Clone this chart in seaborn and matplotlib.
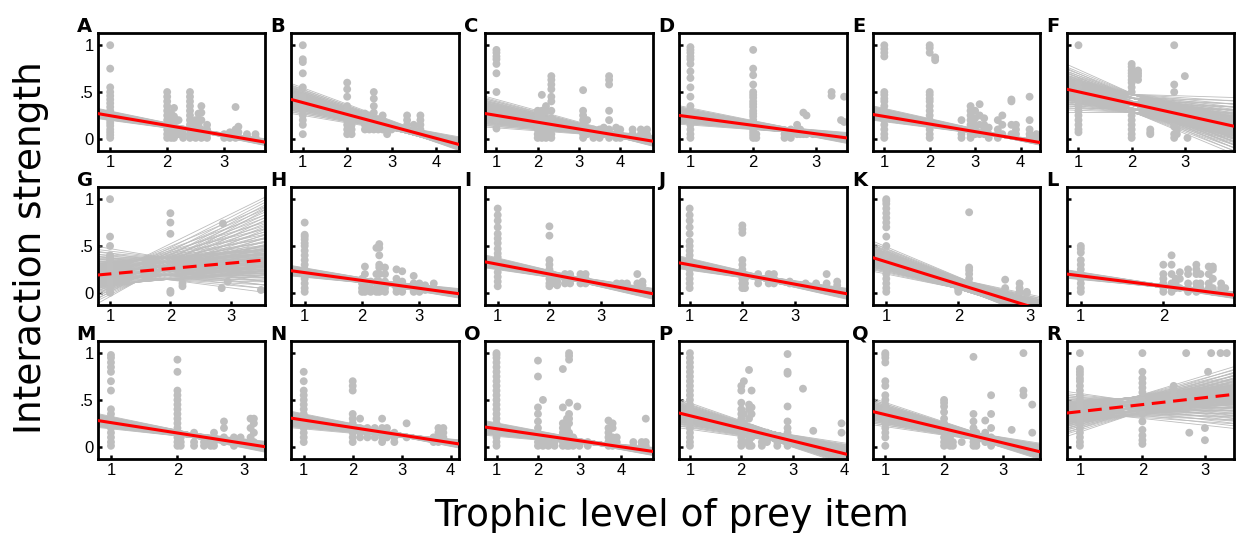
import numpy as np
import pandas as pd
import matplotlib
matplotlib.use("Agg")
import matplotlib.pyplot as plt
import seaborn as sns

sns.set_style("white")
plt.rcParams['font.family'] = ['DejaVu Sans']
plt.rcParams['text.color'] = 'black'
plt.rcParams['xtick.color'] = 'black'
plt.rcParams['ytick.color'] = 'black'

panel_labels = list("ABCDEFGHIJKLMNOPQR")

# Prey observations per predator: (trophic level of prey, [interaction strengths])
A_pts = [(1.0, [1.0, 0.75, 0.55, 0.5, 0.46, 0.42, 0.38, 0.34, 0.3, 0.27, 0.24, 0.2, 0.17, 0.14, 0.1, 0.07, 0.04, 0.01]),
         (2.0, [0.5, 0.45, 0.4, 0.35, 0.3, 0.25, 0.2, 0.15, 0.1, 0.05, 0.01]),
         (2.07, [0.27, 0.2, 0.12, 0.05, 0.01]), (2.12, [0.33, 0.24, 0.18, 0.1, 0.05, 0.01]),
         (2.2, [0.2, 0.1, 0.05]), (2.28, [0.1, 0.05, 0.01]),
         (2.4, [0.5, 0.45, 0.4, 0.35, 0.3, 0.25, 0.2, 0.15, 0.1, 0.05, 0.01]),
         (2.5, [0.2, 0.15, 0.1, 0.05, 0.01]), (2.55, [0.27, 0.2, 0.15, 0.1, 0.05]),
         (2.6, [0.35, 0.28, 0.2, 0.1, 0.05, 0.01]), (2.7, [0.15, 0.1, 0.05, 0.01]),
         (3.0, [0.05, 0.01]), (3.1, [0.07, 0.03, 0.01]), (3.2, [0.34, 0.1, 0.05, 0.01]),
         (3.25, [0.13, 0.07, 0.02]), (3.4, [0.05, 0.02]), (3.55, [0.05, 0.02])]
B_pts = [(1.0, [1.0, 0.85, 0.82, 0.7, 0.55, 0.45, 0.4, 0.35, 0.3, 0.25, 0.2, 0.15, 0.05]),
         (2.0, [0.6, 0.53, 0.45, 0.35, 0.3, 0.25, 0.2, 0.15, 0.1, 0.05]),
         (2.1, [0.28, 0.2, 0.15, 0.1, 0.05]), (2.4, [0.27, 0.2, 0.15, 0.1]),
         (2.5, [0.25, 0.2, 0.15, 0.1]), (2.6, [0.5, 0.43, 0.35, 0.28, 0.2, 0.15, 0.1]),
         (2.7, [0.2, 0.15, 0.1]), (2.8, [0.25, 0.2, 0.15, 0.1]), (2.9, [0.15, 0.1, 0.05]),
         (3.0, [0.1]), (3.35, [0.25, 0.2, 0.15, 0.1]), (3.5, [0.15, 0.1]),
         (3.65, [0.25, 0.2, 0.15, 0.1])]
C_pts = [(1.0, [0.95, 0.92, 0.88, 0.85, 0.8, 0.7, 0.5, 0.25, 0.2, 0.11]),
         (2.0, [0.3, 0.25, 0.2, 0.15, 0.1, 0.05, 0.01]),
         (2.1, [0.47, 0.3, 0.25, 0.2, 0.15, 0.1, 0.05, 0.01]),
         (2.2, [0.35, 0.3, 0.2, 0.1, 0.05, 0.01]),
         (2.33, [0.67, 0.63, 0.58, 0.53, 0.45, 0.4, 0.3, 0.22, 0.15, 0.1, 0.05, 0.01]),
         (3.1, [0.52, 0.3, 0.25, 0.2, 0.15, 0.1, 0.05, 0.01]), (3.2, [0.2, 0.1, 0.05]),
         (3.35, [0.1, 0.05, 0.01]), (3.5, [0.1, 0.05, 0.01]), (3.6, [0.12, 0.05]),
         (3.73, [0.67, 0.63, 0.58, 0.3, 0.2, 0.1, 0.05, 0.01]), (3.9, [0.12, 0.05, 0.01]),
         (4.0, [0.1, 0.05, 0.01]), (4.3, [0.1, 0.05]), (4.5, [0.1, 0.05, 0.01]), (4.65, [0.1, 0.05])]
D_pts = [(1.0, [0.98, 0.95, 0.92, 0.88, 0.85, 0.8, 0.72, 0.65, 0.55, 0.45, 0.35, 0.25, 0.2, 0.15, 0.1, 0.05, 0.01]),
         (2.0, [0.95, 0.75, 0.68, 0.58, 0.5, 0.47, 0.44, 0.4, 0.37, 0.34, 0.3, 0.27, 0.24, 0.2, 0.17, 0.14, 0.1, 0.07, 0.04, 0.01]),
         (2.05, [0.05, 0.01]), (2.5, [0.05, 0.01]), (2.6, [0.1, 0.05, 0.01]),
         (2.7, [0.15, 0.1, 0.05]), (2.75, [0.1, 0.05]), (2.8, [0.28, 0.05]),
         (2.85, [0.25, 0.05]), (2.95, [0.05]), (3.25, [0.5, 0.46]), (3.4, [0.2]),
         (3.45, [0.45, 0.18])]
E_pts = [(1.0, [1.0, 0.96, 0.92, 0.88, 0.5, 0.47, 0.43, 0.4, 0.35, 0.3, 0.25, 0.2, 0.15, 0.1, 0.05, 0.01]),
         (2.0, [1.0, 0.97, 0.92, 0.5, 0.47, 0.43, 0.4, 0.35, 0.3, 0.25, 0.2, 0.15, 0.1, 0.05, 0.01]),
         (2.12, [0.87, 0.84]), (2.7, [0.2, 0.1, 0.05, 0.01]),
         (2.9, [0.35, 0.3, 0.25, 0.2, 0.15, 0.1, 0.05, 0.01]), (3.0, [0.3, 0.22, 0.15, 0.1, 0.05]),
         (3.1, [0.37, 0.25, 0.15, 0.05]), (3.2, [0.22, 0.15, 0.1, 0.05]), (3.3, [0.12, 0.05, 0.01]),
         (3.5, [0.2, 0.1, 0.05, 0.01]), (3.6, [0.25, 0.15, 0.05]), (3.8, [0.42, 0.4, 0.15, 0.05]),
         (3.9, [0.15, 0.1, 0.05]), (4.2, [0.45, 0.2, 0.1, 0.05, 0.01]), (4.35, [0.05, 0.01])]
F_pts = [(1.0, [1.0, 0.6, 0.55, 0.5, 0.45, 0.4, 0.35, 0.3, 0.25, 0.2, 0.15, 0.1, 0.07]),
         (2.0, [0.8, 0.77, 0.73, 0.7, 0.67, 0.63, 0.6, 0.55, 0.5, 0.3, 0.25, 0.2, 0.15, 0.1, 0.05, 0.01]),
         (2.12, [0.73, 0.7, 0.67, 0.63]), (2.35, [0.1, 0.07, 0.05]),
         (2.8, [1.0, 0.58, 0.5, 0.13, 0.05, 0.01]), (2.85, [0.1, 0.05]), (3.0, [0.67]), (3.05, [0.01])]
G_pts = [(1.0, [1.0, 0.6, 0.5, 0.4, 0.38, 0.35, 0.3, 0.25, 0.2, 0.15, 0.1, 0.05, 0.01, 0.0]),
         (2.0, [0.85, 0.75, 0.63, 0.02, 0.0]), (2.2, [0.1, 0.07]), (2.85, [0.05]),
         (2.87, [0.74]), (2.95, [0.12]), (3.5, [0.03])]
H_pts = [(1.0, [0.75, 0.62, 0.6, 0.57, 0.53, 0.5, 0.45, 0.4, 0.35, 0.3, 0.25, 0.2, 0.15, 0.1, 0.05, 0.01]),
         (2.0, [0.15, 0.1, 0.05, 0.01]), (2.05, [0.28, 0.2, 0.1, 0.05, 0.01]),
         (2.15, [0.12, 0.05, 0.01]), (2.25, [0.48, 0.2, 0.12, 0.05, 0.01]),
         (2.3, [0.52, 0.48, 0.4, 0.3, 0.27, 0.2, 0.12, 0.05, 0.01]),
         (2.4, [0.27, 0.2, 0.12, 0.05, 0.01]), (2.6, [0.25, 0.15, 0.1, 0.05, 0.01]),
         (2.7, [0.23, 0.12, 0.05, 0.01]), (2.9, [0.18, 0.1, 0.05, 0.01]),
         (3.0, [0.1, 0.05, 0.01]), (3.1, [0.08, 0.03]), (3.25, [0.1, 0.03])]
I_pts = [(1.0, [0.9, 0.83, 0.77, 0.7, 0.63, 0.58, 0.53, 0.47, 0.42, 0.38, 0.33, 0.28, 0.22, 0.17, 0.12, 0.07]),
         (2.0, [0.71, 0.61, 0.35, 0.3, 0.25, 0.2, 0.15, 0.1, 0.07]), (2.05, [0.2, 0.15, 0.1]),
         (2.15, [0.12, 0.08]), (2.3, [0.2, 0.15, 0.1]), (2.4, [0.2, 0.15, 0.1]),
         (2.6, [0.2, 0.17, 0.14, 0.1]), (2.7, [0.2, 0.15, 0.1]), (3.3, [0.1]), (3.4, [0.1]),
         (3.5, [0.1]), (3.7, [0.2, 0.1]), (3.8, [0.12, 0.08])]
J_pts = [(1.0, [0.9, 0.83, 0.77, 0.7, 0.63, 0.55, 0.5, 0.45, 0.4, 0.35, 0.3, 0.25, 0.2, 0.15, 0.1, 0.05]),
         (2.0, [0.72, 0.68, 0.64, 0.35, 0.3, 0.25, 0.2, 0.15, 0.1, 0.05]), (2.05, [0.15, 0.1, 0.05]),
         (2.3, [0.2, 0.15, 0.1]), (2.5, [0.2, 0.15, 0.1]), (2.6, [0.2, 0.15, 0.1]),
         (2.9, [0.12, 0.1]), (3.2, [0.1]), (3.4, [0.1]), (3.6, [0.2, 0.1]), (3.8, [0.12, 0.08])]
K_pts = [(1.0, [1.0, 0.98, 0.95, 0.9, 0.85, 0.8, 0.75, 0.7, 0.6, 0.5, 0.4, 0.3, 0.25, 0.2, 0.15, 0.1, 0.05, 0.01]),
         (2.0, [0.1, 0.07, 0.05, 0.03, 0.01]), (2.15, [0.86, 0.27, 0.24, 0.2, 0.15, 0.1, 0.05]),
         (2.65, [0.14, 0.05]), (2.85, [0.1, 0.05, 0.01]), (2.95, [0.01, 0.0])]
L_pts = [(1.0, [0.5, 0.47, 0.43, 0.35, 0.3, 0.25, 0.2, 0.15, 0.1, 0.05, 0.01]),
         (2.0, [0.3, 0.2, 0.15, 0.1, 0.05, 0.01]), (2.1, [0.4, 0.3, 0.2, 0.1, 0.05, 0.01]),
         (2.15, [0.15, 0.1, 0.05]), (2.2, [0.22, 0.15, 0.05]), (2.3, [0.25, 0.2, 0.1, 0.05, 0.01]),
         (2.4, [0.3, 0.25, 0.2, 0.1, 0.05, 0.01]), (2.45, [0.2, 0.1, 0.05]),
         (2.55, [0.28, 0.2, 0.1, 0.05]), (2.6, [0.28, 0.25, 0.15, 0.05, 0.01]),
         (2.7, [0.1, 0.05, 0.01]), (2.75, [0.05])]
M_pts = [(1.0, [0.98, 0.95, 0.9, 0.85, 0.8, 0.7, 0.6, 0.4, 0.35, 0.3, 0.25, 0.2, 0.15, 0.1, 0.05, 0.01]),
         (2.0, [0.93, 0.8, 0.6, 0.55, 0.5, 0.45, 0.4, 0.35, 0.3, 0.25, 0.2, 0.15, 0.1, 0.05, 0.01]),
         (2.05, [0.1, 0.05, 0.01]), (2.25, [0.15, 0.05, 0.01]), (2.4, [0.05, 0.01]),
         (2.5, [0.05, 0.01]), (2.55, [0.15, 0.1, 0.05, 0.01]), (2.7, [0.27, 0.2, 0.1, 0.05]),
         (2.85, [0.1, 0.05, 0.01]), (2.95, [0.1, 0.05]), (3.1, [0.3, 0.2, 0.1, 0.05]),
         (3.15, [0.3, 0.25, 0.15, 0.05])]
N_pts = [(1.0, [0.8, 0.7, 0.6, 0.55, 0.5, 0.45, 0.4, 0.35, 0.3, 0.25, 0.2, 0.15, 0.1, 0.05]),
         (2.0, [0.7, 0.65, 0.6, 0.35, 0.3, 0.25, 0.2, 0.15, 0.1, 0.05]), (2.15, [0.3, 0.2, 0.15, 0.1]),
         (2.3, [0.2, 0.15, 0.1]), (2.45, [0.2, 0.15, 0.1]), (2.6, [0.3, 0.2, 0.15, 0.1, 0.05]),
         (2.7, [0.2, 0.15, 0.1]), (2.85, [0.15, 0.1, 0.05]), (3.1, [0.25, 0.1]),
         (3.65, [0.1, 0.05]), (3.75, [0.2, 0.15, 0.1, 0.05]), (3.85, [0.2, 0.15, 0.1])]
O_pts = [(1.0, [1.0, 0.98, 0.95, 0.9, 0.85, 0.8, 0.75, 0.7, 0.65, 0.6, 0.55, 0.5, 0.45, 0.4, 0.35, 0.3, 0.25, 0.2, 0.15, 0.1, 0.05, 0.01]),
         (2.0, [0.92, 0.75, 0.42, 0.35, 0.27, 0.2, 0.15, 0.1, 0.05, 0.01]), (2.12, [0.5, 0.1, 0.05, 0.01]),
         (2.25, [0.05, 0.01]), (2.4, [0.05, 0.01]),
         (2.6, [0.83, 0.42, 0.25, 0.2, 0.15, 0.1, 0.05, 0.01]),
         (2.7, [0.3, 0.25, 0.2, 0.15, 0.1, 0.05, 0.01]),
         (2.75, [1.0, 0.97, 0.93, 0.47, 0.35, 0.3, 0.25, 0.15, 0.05, 0.01]),
         (2.85, [0.1, 0.05, 0.01]), (2.95, [0.43]), (3.0, [0.05, 0.01]), (3.2, [0.05, 0.01]),
         (3.7, [0.28, 0.2, 0.15, 0.1, 0.05, 0.01]), (3.8, [0.25, 0.2, 0.1, 0.05, 0.01]),
         (3.9, [0.1, 0.05]), (4.3, [0.05, 0.01]), (4.5, [0.05, 0.01]), (4.6, [0.3, 0.05, 0.01])]
P_pts = [(1.0, [1.0, 0.95, 0.9, 0.85, 0.8, 0.75, 0.7, 0.65, 0.6, 0.55, 0.5, 0.45, 0.4, 0.35, 0.3, 0.25, 0.2, 0.15, 0.1, 0.05, 0.01]),
         (2.0, [0.65, 0.6, 0.47, 0.4, 0.35, 0.3, 0.25, 0.2, 0.15, 0.1, 0.05, 0.01]),
         (2.05, [0.7, 0.35, 0.25, 0.15, 0.05]), (2.15, [0.82, 0.45, 0.4, 0.3, 0.2, 0.1, 0.05, 0.01]),
         (2.2, [0.6, 0.42, 0.35, 0.2, 0.1, 0.01]), (2.4, [0.05, 0.01]), (2.5, [0.15, 0.1, 0.05]),
         (2.7, [0.05, 0.01]), (2.9, [0.99, 0.8, 0.78, 0.43, 0.27, 0.2, 0.15, 0.1, 0.05, 0.01]),
         (3.2, [0.62]), (3.4, [0.17]), (3.95, [0.25, 0.15])]
Q_pts = [(1.0, [1.0, 0.98, 0.95, 0.9, 0.7, 0.65, 0.55, 0.5, 0.45, 0.4, 0.35, 0.3, 0.25, 0.2, 0.15, 0.1, 0.01]),
         (2.0, [0.5, 0.47, 0.43, 0.37, 0.3, 0.25, 0.2, 0.15, 0.1, 0.05, 0.01]),
         (2.1, [0.1, 0.05, 0.01]), (2.15, [0.05, 0.01]), (2.3, [0.05]),
         (2.5, [0.96, 0.35, 0.27, 0.2, 0.15, 0.1, 0.05, 0.01]), (2.55, [0.15, 0.1, 0.05, 0.01]),
         (2.7, [0.28, 0.15, 0.1, 0.05]), (2.8, [0.55, 0.35, 0.2, 0.1, 0.05, 0.01]),
         (3.15, [0.18]), (3.35, [1.0, 0.6, 0.55]), (3.5, [0.45, 0.15])]
R_pts = [(1.0, [1.0, 0.83, 0.8, 0.77, 0.73, 0.7, 0.65, 0.6, 0.55, 0.5, 0.45, 0.4, 0.35, 0.3, 0.25, 0.2, 0.15, 0.1, 0.05, 0.01]),
         (2.0, [1.0, 0.8, 0.73, 0.68, 0.63, 0.58, 0.5, 0.45, 0.35, 0.27, 0.18, 0.12, 0.07, 0.03]),
         (2.5, [0.65, 0.6, 0.55, 0.5, 0.45]), (2.7, [1.0, 0.4]), (2.75, [0.15]),
         (3.0, [0.2, 0.07]), (3.05, [0.8]), (3.1, [1.0]), (3.25, [1.0]), (3.35, [1.0])]

prey_points = [A_pts, B_pts, C_pts, D_pts, E_pts, F_pts, G_pts, H_pts, I_pts,
               J_pts, K_pts, L_pts, M_pts, N_pts, O_pts, P_pts, Q_pts, R_pts]

# Axis ranges and ticks for each panel
x_min = [0.78, 0.745, 0.73, 0.82, 0.75, 0.78, 0.795, 0.77, 0.76, 0.80, 0.815, 0.83, 0.80, 0.75, 0.73, 0.79, 0.79, 0.79]
x_max = [3.72, 4.52, 4.79, 3.49, 4.44, 3.93, 3.57, 3.69, 4.00, 3.98, 3.14, 2.86, 3.32, 4.17, 4.77, 4.05, 3.64, 3.47]
x_tick_max = [3, 4, 4, 3, 4, 3, 3, 3, 3, 3, 3, 2, 3, 4, 4, 4, 3, 3]

# Fitted regression: predicted strength at the left and right edge of each panel
fit_left = [0.27, 0.42, 0.27, 0.25, 0.26, 0.53, 0.19, 0.235, 0.33, 0.32, 0.375, 0.20, 0.28, 0.305, 0.21, 0.36, 0.375, 0.36]
fit_right = [-0.035, -0.06, -0.025, 0.01, -0.04, 0.134, 0.35, -0.01, -0.01, -0.01, -0.18, -0.025, 0.0, 0.03, -0.05, -0.08, -0.055, 0.56]
significant = [True] * 6 + [False] + [True] * 10 + [False]

# Envelope of the bootstrap regression lines at each edge
boot_left_lo = [0.23, 0.30, 0.15, 0.18, 0.21, 0.38, 0.00, 0.20, 0.29, 0.28, 0.28, 0.17, 0.23, 0.22, 0.14, 0.25, 0.27, 0.20]
boot_left_hi = [0.31, 0.56, 0.43, 0.33, 0.34, 0.70, 0.38, 0.27, 0.38, 0.37, 0.50, 0.23, 0.33, 0.36, 0.26, 0.46, 0.48, 0.50]
boot_right_lo = [-0.06, -0.10, -0.06, -0.03, -0.06, -0.10, 0.08, -0.04, -0.05, -0.05, -0.25, -0.05, -0.04, 0.00, -0.08, -0.16, -0.11, 0.24]
boot_right_hi = [-0.01, 0.00, 0.02, 0.05, -0.02, 0.38, 1.00, 0.03, 0.03, 0.03, -0.08, 0.00, 0.04, 0.06, -0.02, 0.00, 0.01, 0.80]

POINT_GREY = "#bebebe"
LINE_GREY = "#bdbdbd"

fig, axes = plt.subplots(3, 6, figsize=(12.41, 5.33), dpi=100)
fig.subplots_adjust(left=0.0787, right=0.9946, top=0.938, bottom=0.139, wspace=0.157, hspace=0.305)

n_boot = 150
u = np.linspace(-1, 1, n_boot)
shape = np.sign(u) * np.abs(u) ** 2.2
waist = np.tile([-1.0, -0.6, -0.2, 0.2, 0.6, 1.0], n_boot // 6 + 1)[:n_boot]

for i, ax in enumerate(axes.flat):
    cols = prey_points[i]
    df = pd.DataFrame({
        "trophic": [x for x, ys in cols for _ in ys],
        "strength": [y for _, ys in cols for y in ys],
    })
    x0, x1 = x_min[i], x_max[i]
    yl, yr = fit_left[i], fit_right[i]

    # bootstrap fan of regression lines
    half = 0.3 * min(boot_left_hi[i] - boot_left_lo[i], boot_right_hi[i] - boot_right_lo[i])
    for s, w in zip(shape, waist):
        if s >= 0:
            a = yl + s * (boot_left_hi[i] - yl)
            b = yr - s * (yr - boot_right_lo[i])
        else:
            a = yl + s * (yl - boot_left_lo[i])
            b = yr - s * (boot_right_hi[i] - yr)
        ax.plot([x0, x1], [a + w * half, b + w * half], color=LINE_GREY, lw=0.6, zorder=1)

    sns.scatterplot(data=df, x="trophic", y="strength", ax=ax, color=POINT_GREY,
                    s=32, linewidth=0, edgecolor="none", zorder=2, legend=False)

    fit_df = pd.DataFrame({"trophic": [x0, x1], "strength": [yl, yr]})
    sns.lineplot(data=fit_df, x="trophic", y="strength", ax=ax, color="#ff0000",
                 lw=2.2, zorder=3, estimator=None,
                 linestyle="-" if significant[i] else (0, (4.5, 2.5)))

    ax.set_xlim(x0, x1)
    ax.set_ylim(-0.13, 1.13)
    ax.set_xticks(range(1, x_tick_max[i] + 1))
    ax.set_yticks([0, 0.5, 1])
    if i % 6 == 0:
        ax.set_yticklabels(["0", ".5", "1"])
    else:
        ax.set_yticklabels([])
    ax.set_xlabel("")
    ax.set_ylabel("")
    ax.tick_params(direction="in", length=3, width=1.8, labelsize=12, pad=3,
                   left=True, bottom=True, colors="black")
    for lab in ax.get_xticklabels() + ax.get_yticklabels():
        lab.set_family("Liberation Sans")
    for sp in ax.spines.values():
        sp.set_visible(True)
        sp.set_color("black")
        sp.set_linewidth(2.0)
    ax.annotate(panel_labels[i], xy=(0, 1), xycoords="axes fraction",
                xytext=(-21, 1), textcoords="offset pixels",
                ha="left", va="baseline", fontsize=14, fontweight="bold", color="black")

fig.text(0.025, 0.535, "Interaction strength", rotation=90, ha="center", va="center",
         fontsize=27, color="black")
fig.text(0.541, 0.032, "Trophic level of prey item", ha="center", va="center",
         fontsize=27, color="black")

fig.savefig("out.png", dpi=100)
